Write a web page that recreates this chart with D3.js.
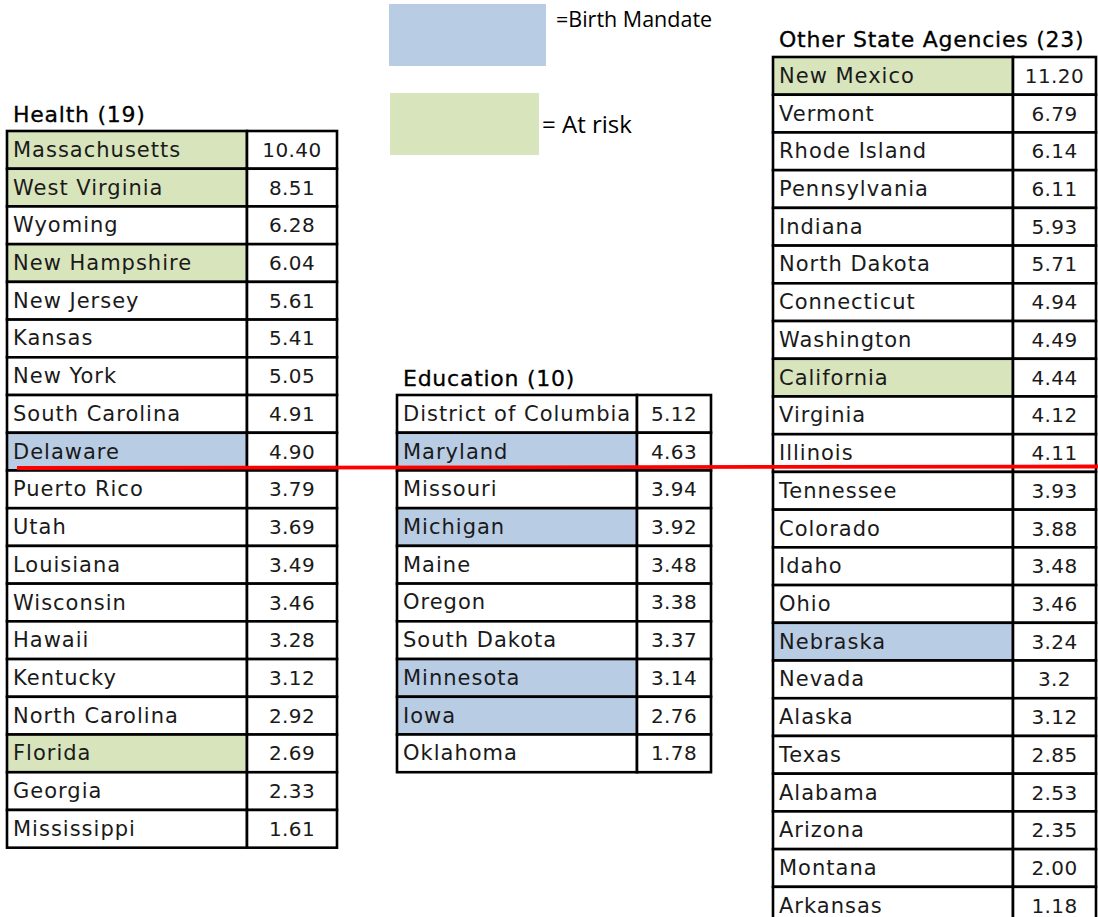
<!DOCTYPE html>
<html><head><meta charset="utf-8">
<script src="https://cdn.jsdelivr.net/npm/d3@7"></script>
<style>
html,body{margin:0;padding:0;background:#fff;overflow:hidden;}
svg{display:block;}
</style></head>
<body>
<svg id="chart" width="1098" height="917"></svg>
<script>
// ---- data ----
const healthStates = ["Massachusetts","West Virginia","Wyoming","New Hampshire","New Jersey","Kansas","New York","South Carolina","Delaware","Puerto Rico","Utah","Louisiana","Wisconsin","Hawaii","Kentucky","North Carolina","Florida","Georgia","Mississippi"];
const healthValues = ["10.40","8.51","6.28","6.04","5.61","5.41","5.05","4.91","4.90","3.79","3.69","3.49","3.46","3.28","3.12","2.92","2.69","2.33","1.61"];
const healthStatus = ["risk","risk","","risk","","","","","mandate","","","","","","","","risk","",""];

const eduStates = ["District of Columbia","Maryland","Missouri","Michigan","Maine","Oregon","South Dakota","Minnesota","Iowa","Oklahoma"];
const eduValues = ["5.12","4.63","3.94","3.92","3.48","3.38","3.37","3.14","2.76","1.78"];
const eduStatus = ["","mandate","","mandate","","","","mandate","mandate",""];

const otherStates = ["New Mexico","Vermont","Rhode Island","Pennsylvania","Indiana","North Dakota","Connecticut","Washington","California","Virginia","Illinois","Tennessee","Colorado","Idaho","Ohio","Nebraska","Nevada","Alaska","Texas","Alabama","Arizona","Montana","Arkansas"];
const otherValues = ["11.20","6.79","6.14","6.11","5.93","5.71","4.94","4.49","4.44","4.12","4.11","3.93","3.88","3.48","3.46","3.24","3.2","3.12","2.85","2.53","2.35","2.00","1.18"];
const otherStatus = ["risk","","","","","","","","risk","","","","","","","mandate","","","","","","",""];

const tableTitles = ["Health (19)","Education (10)","Other State Agencies (23)"];
const legendLabels = ["=Birth Mandate","= At risk"];

// ---- styles ----
const colors = {mandate:"#b8cce4", risk:"#d8e4bc", "":"#ffffff"};
const FONT = "'DejaVu Sans', sans-serif";
const ROW_H = 37.72;

const svg = d3.select("#chart");

function drawTable(cfg){
  const n = cfg.states.length;
  const y = d3.scaleBand().domain(cfg.states).range([cfg.top, cfg.top + n*ROW_H]).padding(0);
  const g = svg.append("g");
  const rows = g.selectAll("g.row").data(cfg.states.map((s,i)=>({s, v:cfg.values[i], st:cfg.status[i]}))).join("g");
  rows.append("rect")
    .attr("x", cfg.x0).attr("y", d=>y(d.s))
    .attr("width", cfg.x1-cfg.x0).attr("height", y.bandwidth())
    .attr("fill", d=>colors[d.st]).attr("stroke","#000").attr("stroke-width",2.6);
  rows.append("rect")
    .attr("x", cfg.x1).attr("y", d=>y(d.s))
    .attr("width", cfg.x2-cfg.x1).attr("height", y.bandwidth())
    .attr("fill", "#fff").attr("stroke","#000").attr("stroke-width",2.6);
  rows.append("text")
    .attr("x", cfg.x0+6).attr("y", d=>y(d.s)+y.bandwidth()/2+7)
    .attr("font-family",FONT).attr("font-size",21).attr("letter-spacing",1.0)
    .attr("fill","#1a1a1a").text(d=>d.s);
  rows.append("text")
    .attr("x", (cfg.x1+cfg.x2)/2).attr("y", d=>y(d.s)+y.bandwidth()/2+7)
    .attr("text-anchor","middle")
    .attr("font-family",FONT).attr("font-size",20).attr("letter-spacing",0.4)
    .attr("fill","#1a1a1a").text(d=>d.v);
  g.append("text").attr("x", cfg.x0+6).attr("y", cfg.titleY)
    .attr("font-family",FONT).attr("font-size",22).attr("letter-spacing",0.75)
    .attr("fill","#000").attr("stroke","#000").attr("stroke-width",0.3).text(cfg.title);
}

drawTable({states:healthStates, values:healthValues, status:healthStatus, x0:7, x1:247, x2:337, top:131, title:tableTitles[0], titleY:122});
drawTable({states:eduStates, values:eduValues, status:eduStatus, x0:397, x1:637, x2:711, top:395, title:tableTitles[1], titleY:386});
drawTable({states:otherStates, values:otherValues, status:otherStatus, x0:773, x1:1013, x2:1096, top:57, title:tableTitles[2], titleY:47});

// legend
svg.append("rect").attr("x",389).attr("y",4).attr("width",157).attr("height",62).attr("fill",colors.mandate);
svg.append("rect").attr("x",390).attr("y",93).attr("width",149).attr("height",62).attr("fill",colors.risk);
svg.append("text").attr("x",556).attr("y",27).attr("font-family","'Open Sans', sans-serif").attr("font-size",21.5)
  .attr("fill","#000").text(legendLabels[0]);
svg.append("text").attr("x",542).attr("y",133).attr("font-family","'Open Sans', sans-serif").attr("font-size",24)
  .attr("fill","#000").text(legendLabels[1]);

// red threshold line
svg.append("line").attr("x1",17).attr("y1",468).attr("x2",1098).attr("y2",466.5)
  .attr("stroke","#ff0000").attr("stroke-width",3.8);
</script>
</body></html>
